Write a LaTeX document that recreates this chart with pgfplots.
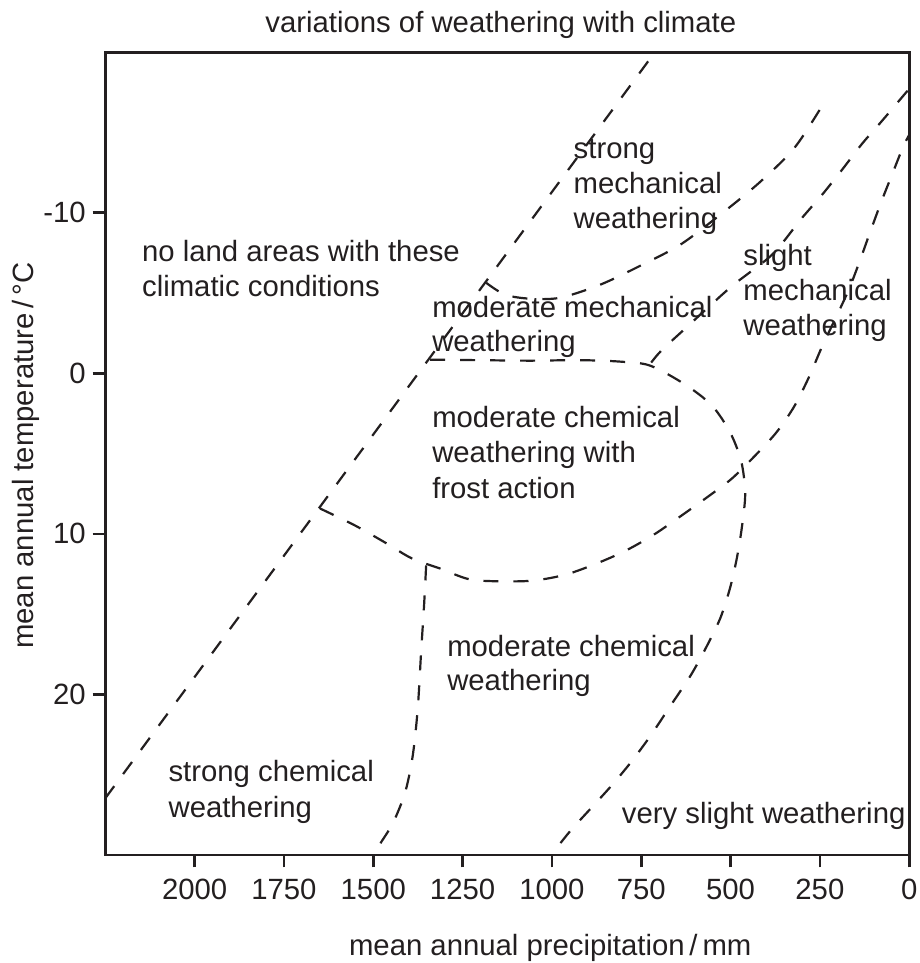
\documentclass[border=0pt]{standalone}
\usepackage{pgfplots}
\pgfplotsset{compat=1.18}
\usepackage{fontspec}
\setmainfont{Liberation Sans}
\definecolor{ink}{HTML}{231F20}

\tikzset{zone/.style={ink, line width=1.1pt, dash pattern=on 7.5pt off 7.5pt},
         lbl/.style={anchor=base west, inner sep=0pt, text=ink}}

\begin{document}
\begin{tikzpicture}[font=\fontsize{14.65}{17.6}\selectfont]
\useasboundingbox (-52.65pt,-54.05pt) rectangle (406.85pt,427.35pt);
\begin{axis}[
  at={(0,0)}, anchor=south west,
  scale only axis, width=401.85pt, height=401.2pt,
  xmin=0, xmax=2250, ymin=-20, ymax=30,
  x dir=reverse, y dir=reverse,
  xtick={0,250,500,750,1000,1250,1500,1750,2000},
  xticklabels={0,250,500,750,1000,1250,1500,1750,2000},
  ytick={-10,0,10,20}, yticklabels={-10,0,10,20},
  tick pos=left,
  tick align=outside, major tick length=6.3pt,
  axis line style={line width=1.35pt, ink},
  every tick/.style={line width=1.35pt, ink},
  tick label style={text=ink},
  xticklabel style={yshift=-2pt},
  clip=false,
]
% A: boundary of the land areas
\addplot[zone, sharp plot] coordinates {(2250,26.47) (712,-20)};
% B: lower limit of strong mechanical weathering
\addplot[zone, smooth] coordinates {
 (1184,-5.64) (1131,-4.90) (1061,-4.65) (977,-4.71) (865,-5.52) (753,-6.70)
 (641,-8.01) (529,-9.88) (417,-11.93) (319,-14.11) (232,-17.09)};
% C: frost limit, then right side of moderate chemical weathering
\addplot[zone, smooth] coordinates {
 (1341,-0.85) (1201,-0.82) (1061,-0.79) (921,-0.82) (809,-0.73) (725,-0.48)
 (627,0.70) (552,2.01) (501,3.69) (470,5.49) (459,7.49) (468,9.54) (482,11.47)
 (501,13.34) (529,15.27) (571,17.19) (613,18.87) (669,20.74) (725,22.61)
 (781,24.29) (837,25.78) (893,27.15) (949,28.52) (1002,30.0)};
% D: lower limit of frost action, then slight mechanical weathering
\addplot[zone, smooth] coordinates {
 (1649,8.42) (1551,9.48) (1467,10.54) (1392,11.53) (1313,12.16) (1229,12.84)
 (1131,12.96) (1047,12.90) (960,12.53) (874,11.84) (792,11.03) (714,10.04)
 (641,8.92) (563,7.68) (496,6.55) (431,5.12) (372,3.69) (322,2.07) (280,0.21)
 (244,-1.66) (204,-3.53) (168,-5.27) (137,-7.08) (109,-8.82) (78,-10.69)
 (45,-12.55) (17,-14.11) (0,-14.85)};
% F: strong / moderate chemical weathering
\addplot[zone, smooth] coordinates {
 (1352,11.97) (1358,14.52) (1366,17.32) (1375,20.74) (1386,23.23) (1397,24.79)
 (1414,26.34) (1445,28.02) (1476,29.14) (1501,30.0)};
% G: moderate / slight mechanical weathering
\addplot[zone, smooth] coordinates {
 (722,-0.67) (694,-1.41) (624,-2.85) (498,-5.40) (384,-7.39) (302,-9.63)
 (244,-11.12) (188,-12.68) (132,-14.30) (76,-15.73) (17,-17.28) (0,-17.72)};

\node[lbl] at (axis cs:2148,-6.95) {no land areas with these};
\node[lbl] at (axis cs:2148,-4.77) {climatic conditions};
\node[lbl] at (axis cs:940,-13.36) {strong};
\node[lbl] at (axis cs:940,-11.18) {mechanical};
\node[lbl] at (axis cs:940,-9.01) {weathering};
\node[lbl] at (axis cs:1336,-3.47) {moderate mechanical};
\node[lbl] at (axis cs:1336,-1.35) {weathering};
\node[lbl] at (axis cs:465,-6.70) {slight};
\node[lbl] at (axis cs:465,-4.52) {mechanical};
\node[lbl] at (axis cs:465,-2.35) {weathering};
\node[lbl] at (axis cs:1336,3.38) {moderate chemical};
\node[lbl] at (axis cs:1336,5.56) {weathering with};
\node[lbl] at (axis cs:1336,7.80) {frost action};
\node[lbl] at (axis cs:1294,17.63) {moderate chemical};
\node[lbl] at (axis cs:1294,19.74) {weathering};
\node[lbl] at (axis cs:2074,25.41) {strong chemical};
\node[lbl] at (axis cs:2074,27.70) {weathering};
\node[lbl] at (axis cs:805,28.02) {very slight weathering};
\end{axis}
\node[lbl] at (79.85pt,411.3pt) {variations of weathering with climate};
\node[lbl] at (121.65pt,-50.15pt) {mean annual precipitation\,/\,mm};
\node[lbl, rotate=90] at (-36.15pt,102.85pt) {mean annual temperature\,/\,°C};
\end{tikzpicture}
\end{document}
